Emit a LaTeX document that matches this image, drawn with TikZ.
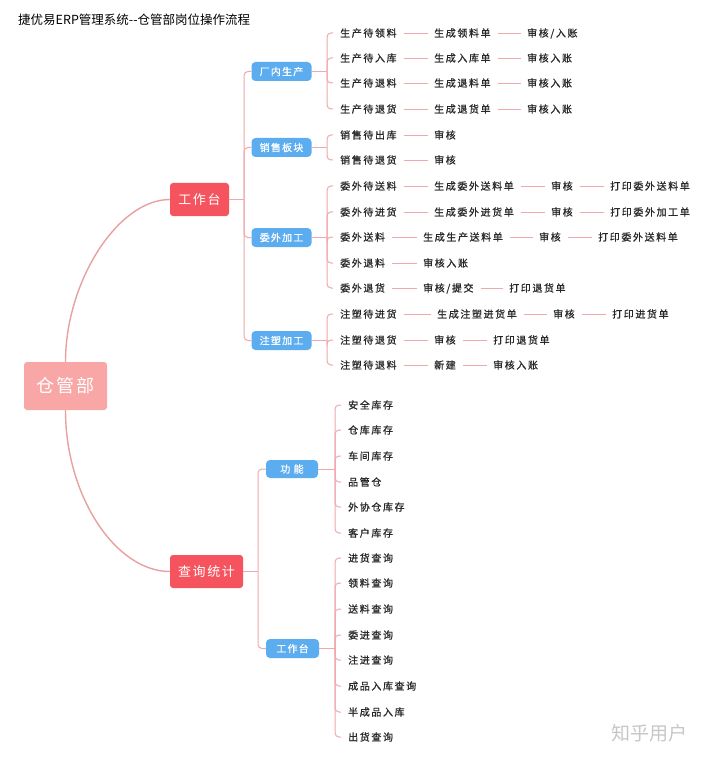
\documentclass[tikz,border=0pt]{standalone}
\usepackage{fontspec}
\setmainfont{Noto Sans CJK SC}
\newfontfamily\leaffont[LetterSpace=16, FakeBold=0.8]{Noto Sans CJK SC}
\newfontfamily\boxfont[LetterSpace=12]{Noto Sans CJK SC}
\newfontfamily\blueboxfont[LetterSpace=12, FakeBold=0.6]{Noto Sans CJK SC}
\newfontfamily\plainfont{Noto Sans CJK SC}
\usetikzlibrary{calc}
\definecolor{rootc}{RGB}{249,166,166}
\definecolor{redc}{RGB}{245,84,94}
\definecolor{bluec}{RGB}{92,172,240}
\definecolor{linec}{RGB}{240,168,172}
\definecolor{curvec}{RGB}{232,160,160}
\definecolor{leafc}{RGB}{40,40,40}
\tikzset{
  rootbox/.style={fill=rootc, rounded corners=3pt, text=white, minimum width=83pt, minimum height=48pt, inner sep=0pt,
    text height=15pt, text depth=1.3pt, font=\boxfont\fontsize{18}{20}\selectfont},
  redbox/.style={fill=redc, rounded corners=3pt, text=white, minimum height=33pt, inner sep=0pt,
    text height=10.8pt, text depth=0.9pt, font=\boxfont\fontsize{13}{15}\selectfont},
  bluebox/.style={fill=bluec, rounded corners=4pt, text=white, minimum height=19pt, inner sep=0pt,
    text height=8.3pt, text depth=0.7pt, font=\blueboxfont\fontsize{10}{12}\selectfont},
  leaf/.style={anchor=west, inner sep=0pt, text=leafc, text height=8.3pt, text depth=0.7pt,
    font=\leaffont\fontsize{10}{12}\selectfont},
  mainline/.style={draw=curvec, line width=1.4pt},
  brline/.style={draw=linec, line width=1pt},
  chainline/.style={draw=linec, line width=0.9pt, shorten <=7pt, shorten >=6pt},
}
\newcommand\mybranch[3]{\draw[brline, rounded corners=4pt] (#1.east -| #2) |- ([xshift=-7pt]#3.west);}
\newcommand\mytrunk[2]{\draw[brline] (#1.east) -- (#1.east -| #2);}
\begin{document}
\begin{tikzpicture}[x=1pt, y=-1pt]
\fill[white] (0,0) rectangle (720,759);
\useasboundingbox (0,0) rectangle (720,759);

\node[anchor=west, inner sep=0pt, text=black, font=\plainfont\fontsize{12.5}{14}\selectfont] (title) at (18,20) {捷优易ERP管理系统--仓管部岗位操作流程};

% root and level 1
\node[rootbox] (root) at (65.5,386) {仓管部};
\node[redbox, minimum width=59pt] (gzt) at (199.5,199.5) {工作台};
\node[redbox, minimum width=73pt] (cxtj) at (206.5,571.5) {查询统计};

\draw[mainline] (root.north) .. controls ($(root.north)+(0,-80)$) and ($(gzt.west)+(-52,0)$) .. (gzt.west);
\draw[mainline] (root.south) .. controls ($(root.south)+(0,86)$) and ($(cxtj.west)+(-54,0)$) .. (cxtj.west);

% level 2
\node[bluebox, minimum width=60pt] (cn) at (281.5,71.5) {厂内生产};
\node[bluebox, minimum width=60pt] (xs) at (281.5,147.5) {销售板块};
\node[bluebox, minimum width=60pt] (ww) at (281.5,237.5) {委外加工};
\node[bluebox, minimum width=60pt] (zs) at (281.5,340.5) {注塑加工};
\node[bluebox, minimum width=52pt, minimum height=18pt] (gn) at (292,469) {功\ 能};
\node[bluebox, minimum width=53pt] (gzt2) at (292.5,648.5) {工作台};

\coordinate (tA) at (244,0);
\coordinate (tB) at (258,0);
\coordinate (bU) at (327,0);
\coordinate (bL) at (335,0);

\mytrunk{gzt}{tA}
\foreach \c in {cn,xs,ww,zs} {\draw[brline, rounded corners=4pt] (gzt.east -| tA) |- (\c.west);}
\mytrunk{cxtj}{tB}
\foreach \c in {gn,gzt2} {\draw[brline, rounded corners=4pt] (cxtj.east -| tB) |- (\c.west);}

% 厂内生产
\node[leaf] (a1) at (340,33) {生产待领料};
\node[leaf] (a2) at (434,33) {生成领料单};
\node[leaf] (a3) at (527,33) {审核/入账};
\node[leaf] (b1) at (340,58) {生产待入库};
\node[leaf] (b2) at (434,58) {生成入库单};
\node[leaf] (b3) at (527,58) {审核入账};
\node[leaf] (c1) at (340,83) {生产待退料};
\node[leaf] (c2) at (434,83) {生成退料单};
\node[leaf] (c3) at (527,83) {审核入账};
\node[leaf] (d1) at (340,109) {生产待退货};
\node[leaf] (d2) at (434,109) {生成退货单};
\node[leaf] (d3) at (527,109) {审核入账};
% 销售板块
\node[leaf] (e1) at (340,135) {销售待出库};
\node[leaf] (e2) at (434,135) {审核};
\node[leaf] (f1) at (340,160) {销售待退货};
\node[leaf] (f2) at (434,160) {审核};
% 委外加工
\node[leaf] (g1) at (340,186) {委外待送料};
\node[leaf] (g2) at (434,186) {生成委外送料单};
\node[leaf] (g3) at (551,186) {审核};
\node[leaf] (g4) at (610,186) {打印委外送料单};
\node[leaf] (h1) at (340,212) {委外待进货};
\node[leaf] (h2) at (434,212) {生成委外进货单};
\node[leaf] (h3) at (551,212) {审核};
\node[leaf] (h4) at (610,212) {打印委外加工单};
\node[leaf] (i1) at (340,237) {委外送料};
\node[leaf] (i2) at (423,237) {生成生产送料单};
\node[leaf] (i3) at (539,237) {审核};
\node[leaf] (i4) at (598,237) {打印委外送料单};
\node[leaf] (j1) at (340,263) {委外退料};
\node[leaf] (j2) at (423,263) {审核入账};
\node[leaf] (k1) at (340,288) {委外退货};
\node[leaf] (k2) at (423,288) {审核/提交};
\node[leaf] (k3) at (509,288) {打印退货单};
% 注塑加工
\node[leaf] (l1) at (340,314) {注塑待进货};
\node[leaf] (l2) at (437,314) {生成注塑进货单};
\node[leaf] (l3) at (553,314) {审核};
\node[leaf] (l4) at (612,314) {打印进货单};
\node[leaf] (m1) at (340,340) {注塑待退货};
\node[leaf] (m2) at (434,340) {审核};
\node[leaf] (m3) at (493,340) {打印退货单};
\node[leaf] (n1) at (340,365) {注塑待退料};
\node[leaf] (n2) at (434,365) {新建};
\node[leaf] (n3) at (493,365) {审核入账};

% 功能
\node[leaf] (p1) at (348,405) {安全库存};
\node[leaf] (p2) at (348,430) {仓库库存};
\node[leaf] (p3) at (348,456) {车间库存};
\node[leaf] (p4) at (348,482) {品管仓};
\node[leaf] (p5) at (348,507) {外协仓库存};
\node[leaf] (p6) at (348,533) {客户库存};
% 工作台 (查询)
\node[leaf] (q1) at (348,558) {进货查询};
\node[leaf] (q2) at (348,583) {领料查询};
\node[leaf] (q3) at (348,609) {送料查询};
\node[leaf] (q4) at (348,635) {委进查询};
\node[leaf] (q5) at (348,660) {注进查询};
\node[leaf] (q6) at (348,686) {成品入库查询};
\node[leaf] (q7) at (348,712) {半成品入库};
\node[leaf] (q8) at (348,737) {出货查询};

% brackets
\mytrunk{cn}{bU}
\foreach \l in {a1,b1,c1,d1} {\mybranch{cn}{bU}{\l}}
\mytrunk{xs}{bU}
\foreach \l in {e1,f1} {\mybranch{xs}{bU}{\l}}
\mytrunk{ww}{bU}
\foreach \l in {g1,h1,i1,j1,k1} {\mybranch{ww}{bU}{\l}}
\mytrunk{zs}{bU}
\foreach \l in {l1,m1,n1} {\mybranch{zs}{bU}{\l}}
\mytrunk{gn}{bL}
\foreach \l in {p1,p2,p3,p4,p5,p6} {\mybranch{gn}{bL}{\l}}
\mytrunk{gzt2}{bL}
\foreach \l in {q1,q2,q3,q4,q5,q6,q7,q8} {\mybranch{gzt2}{bL}{\l}}

% chains
\foreach \s/\t in {a1/a2,a2/a3,b1/b2,b2/b3,c1/c2,c2/c3,d1/d2,d2/d3,e1/e2,f1/f2,
  g1/g2,g2/g3,g3/g4,h1/h2,h2/h3,h3/h4,i1/i2,i2/i3,i3/i4,j1/j2,k1/k2,k2/k3,
  l1/l2,l2/l3,l3/l4,m1/m2,m2/m3,n1/n2,n2/n3}
  {\draw[chainline] (\s.east) -- (\t.west);}

\node[anchor=west, inner sep=0pt, text=black!22, font=\plainfont\fontsize{19}{20}\selectfont] (wm) at (611,733) {知乎用户};
\end{tikzpicture}
\end{document}
